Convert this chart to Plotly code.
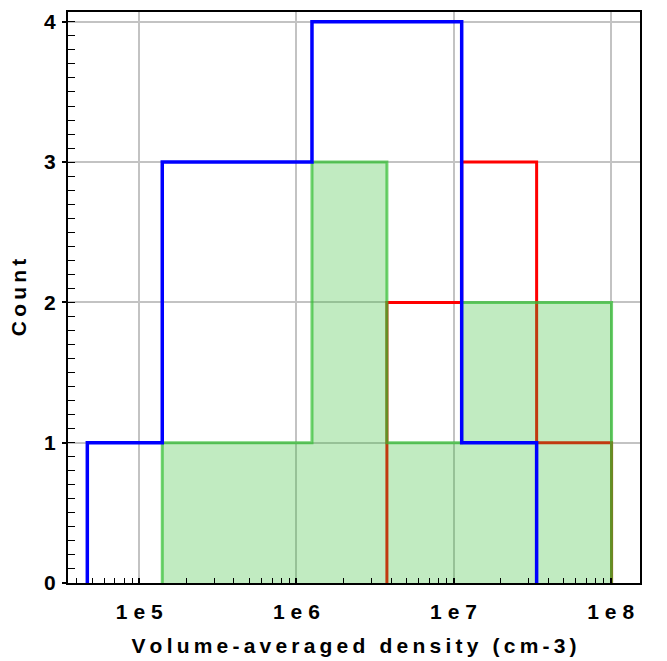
import numpy as np
import plotly.graph_objects as go

# log10 of bin edges (shared by all series)
bin_edges_log = [4.669, 5.146, 5.622, 6.099, 6.576, 7.052, 7.529, 8.006]
blue_counts = [1, 3, 3, 4, 4, 1, 0]
red_counts = [0, 0, 0, 0, 2, 3, 1]
green_counts = [0, 1, 1, 3, 1, 2, 2]
x_tickvals = [1e5, 1e6, 1e7, 1e8]
x_ticktext = ["1e5", "1e6", "1e7", "1e8"]
y_tickvals = [0, 1, 2, 3, 4]
y_ticktext = ["0", "1", "2", "3", "4"]

edges = [10 ** e for e in bin_edges_log]


def spaced(s, sep="\u2009"):
    return sep.join(list(s))


def step_path(counts):
    idx = [i for i, c in enumerate(counts) if c > 0]
    i0, i1 = idx[0], idx[-1]
    xs, ys = [edges[i0]], [0]
    for i in range(i0, i1 + 1):
        xs += [edges[i], edges[i + 1]]
        ys += [counts[i], counts[i]]
    xs.append(edges[i1 + 1])
    ys.append(0)
    return xs, ys


fig = go.Figure()

rx, ry = step_path(red_counts)
fig.add_trace(go.Scatter(x=rx, y=ry, mode="lines",
                         line=dict(color="rgb(255,0,0)", width=3), showlegend=False))

gx, gy = step_path(green_counts)
fig.add_trace(go.Scatter(x=gx, y=gy, mode="lines", fill="tozeroy",
                         fillcolor="rgba(50,190,50,0.30)",
                         line=dict(color="rgba(50,190,50,0.70)", width=3), showlegend=False))

bx, by = step_path(blue_counts)
fig.add_trace(go.Scatter(x=bx, y=by, mode="lines",
                         line=dict(color="rgb(0,0,255)", width=3.5), showlegend=False))

font = dict(family="Liberation Sans, Arial, sans-serif", size=21, color="black", weight="bold")

fig.update_layout(
    width=667, height=661,
    margin=dict(l=68, r=27, t=12, b=78),
    paper_bgcolor="white", plot_bgcolor="white",
    font=font,
)
fig.update_xaxes(
    type="log", range=[4.546, 8.187], automargin=False,
    tickvals=x_tickvals, ticktext=[spaced(t, "\u2009\u200a") for t in x_ticktext],
    ticks="inside", ticklen=5, tickwidth=1.5, tickcolor="black",
    ticklabelstandoff=9,
    showline=True, linecolor="black", linewidth=2, mirror=True,
    showgrid=True, gridcolor="rgb(195,195,195)", gridwidth=1.5,
    zeroline=False,
    minor=dict(ticks="inside", ticklen=5, tickwidth=1.2, tickcolor="black", dtick="D1", showgrid=False),
    title=dict(text=spaced("Volume-averaged density (cm-3)"), font=font, standoff=16),
    tickfont=font,
)
fig.update_yaxes(
    range=[0, 4.07], automargin=False,
    tickvals=y_tickvals, ticktext=y_ticktext,
    ticks="outside", ticklen=4, tickwidth=1.5, tickcolor="black",
    ticklabelstandoff=2,
    showline=True, linecolor="black", linewidth=2, mirror=True,
    showgrid=True, gridcolor="rgb(195,195,195)", gridwidth=1.5,
    zeroline=False,
    minor=dict(ticks="inside", ticklen=7, tickwidth=1.2, tickcolor="black", dtick=0.1, showgrid=False),
    title=dict(text=spaced("Count"), font=font, standoff=12),
    tickfont=font,
)

fig.write_html("out.html")
